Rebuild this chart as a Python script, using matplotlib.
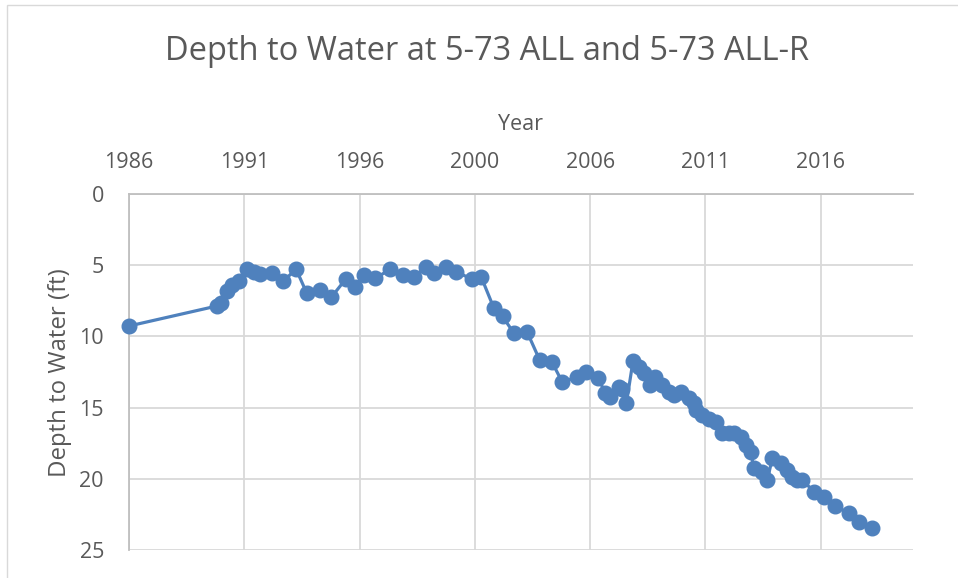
import matplotlib
matplotlib.use("Agg")
import matplotlib.pyplot as plt
from matplotlib.patches import Rectangle

plt.rcParams['font.family'] = ['Open Sans', 'DejaVu Sans']

title = "Depth to Water at 5-73 ALL and 5-73 ALL-R"
x_label = "Year"
y_label = "Depth to Water (ft)"

x_tick_pos = [1986, 1991, 1996, 2001, 2006, 2011, 2016]
x_tick_labels = ["1986", "1991", "1996", "2000", "2006", "2011", "2016"]
y_ticks = [0, 5, 10, 15, 20, 25]

years = [1986.0, 1989.8, 1990.0, 1990.24, 1990.46, 1990.75, 1991.1, 1991.4, 1991.69,
         1992.2, 1992.7, 1993.25, 1993.7, 1994.3, 1994.77, 1995.4, 1995.8, 1996.17,
         1996.68, 1997.33, 1997.88, 1998.34, 1998.88, 1999.24, 1999.75, 2000.18,
         2000.88, 2001.28, 2001.82, 2002.2, 2002.7, 2003.26, 2003.81, 2004.35,
         2004.78, 2005.43, 2005.8, 2006.34, 2006.66, 2006.88, 2007.24, 2007.38,
         2007.57, 2007.86, 2008.11, 2008.33, 2008.59, 2008.83, 2009.12, 2009.41,
         2009.63, 2009.92, 2010.28, 2010.5, 2010.57, 2010.86, 2011.15, 2011.45,
         2011.73, 2012.02, 2012.23, 2012.52, 2012.74, 2012.96, 2013.1, 2013.46,
         2013.68, 2013.9, 2014.26, 2014.55, 2014.77, 2014.99, 2015.2, 2015.7,
         2016.14, 2016.61, 2017.22, 2017.66, 2018.23]
depths = [9.27, 7.87, 7.63, 6.81, 6.39, 6.11, 5.29, 5.45, 5.64,
          5.57, 6.09, 5.29, 6.93, 6.74, 7.26, 5.97, 6.55, 5.69,
          5.92, 5.29, 5.69, 5.85, 5.10, 5.53, 5.15, 5.45,
          5.99, 5.85, 8.0, 8.6, 9.79, 9.67, 11.66, 11.82,
          13.18, 12.87, 12.48, 12.95, 13.95, 14.28, 13.53, 13.72,
          14.7, 11.7, 12.13, 12.6, 13.41, 12.83, 13.41, 13.88,
          14.11, 13.88, 14.35, 14.7, 15.17, 15.52, 15.8, 15.99,
          16.75, 16.8, 16.8, 17.04, 17.63, 18.1, 19.27, 19.5,
          20.08, 18.56, 18.91, 19.38, 19.85, 20.08, 20.08, 20.9,
          21.25, 21.91, 22.42, 23.0, 23.48]

text_color = "#595959"
grid_color = "#D9D9D9"
axis_color = "#BFBFBF"
series_color = "#4F81BD"

fig = plt.figure(figsize=(9.58, 5.78), dpi=100)
fig.patch.set_facecolor("white")

# chart area border (cropped at right and bottom)
fig.patches.append(Rectangle((7 / 958, -0.1), 1.2, 1 - 5 / 578 + 0.1,
                             transform=fig.transFigure, fill=False,
                             edgecolor=grid_color, linewidth=1.0))

ax = fig.add_axes([129 / 958, 1 - 550 / 578, (913 - 129) / 958, (550 - 194) / 578])
ax.plot(years, depths, color=series_color, linewidth=2.3, marker='o',
        markersize=10.5, markerfacecolor=series_color, markeredgecolor=series_color,
        zorder=3, clip_on=False)

ax.set_xlim(1986, 2020)
ax.set_ylim(25, 0)
ax.set_xticks(x_tick_pos)
ax.set_xticklabels(x_tick_labels)
ax.set_yticks(y_ticks)
ax.xaxis.tick_top()
ax.xaxis.set_label_position('top')
ax.tick_params(axis='both', length=0, labelsize=15.5, colors=text_color)
ax.tick_params(axis='x', pad=15)
ax.tick_params(axis='y', pad=18)

ax.grid(True, color=grid_color, linewidth=1.3)
ax.set_axisbelow(True)
for s in ['right', 'bottom']:
    ax.spines[s].set_visible(False)
ax.spines['top'].set_color(axis_color)
ax.spines['left'].set_color(axis_color)
ax.spines['top'].set_linewidth(1.3)
ax.spines['left'].set_linewidth(1.3)

fig.text(487 / 958, 1 - 51 / 578, title, ha='center', va='center',
         fontsize=23.5, color=text_color)
fig.text(521 / 958, 1 - 125 / 578, x_label, ha='center', va='center',
         fontsize=15.5, color=text_color)
fig.text(60 / 958, 1 - 373 / 578, y_label, ha='center', va='center',
         rotation=90, fontsize=17.3, color=text_color)

fig.savefig("out.png", dpi=100)
